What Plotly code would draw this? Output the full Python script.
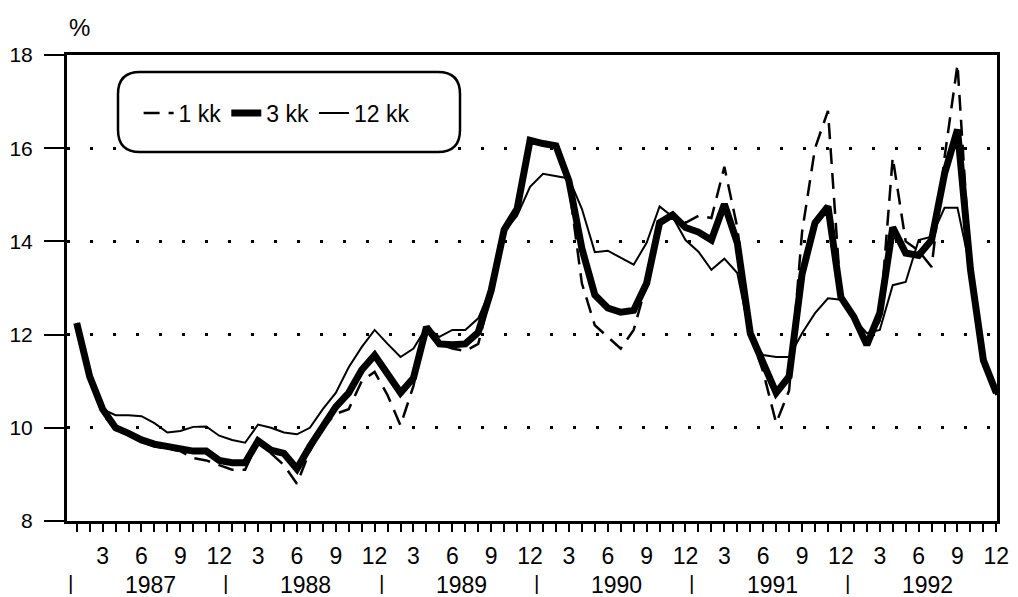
import plotly.graph_objects as go

# months 1..72 = Jan 1987 .. Dec 1992
months = list(range(1, 73))
years = [1987, 1988, 1989, 1990, 1991, 1992]

# 1 kk (dashed)
kk1 = [12.25, 11.0, 10.3, 9.95, 9.85, 9.7, 9.6, 9.55, 9.5, 9.35, 9.3, 9.2,
       9.1, 9.1, 9.7, 9.45, 9.2, 8.8, 9.5, 10.0, 10.3, 10.4, 11.0, 11.2,
       10.7, 10.05, 10.9, 12.2, 11.8, 11.7, 11.65, 11.8, 12.9, 14.2, 14.7, 16.15,
       16.1, 16.0, 15.2, 13.1, 12.2, 11.95, 11.7, 12.1, 13.1, 14.4, 14.55, 14.4,
       14.55, 14.5, 15.6, 14.3, 12.0, 11.2, 10.1, 10.8, 14.2, 16.0, 16.8, 12.8,
       12.4, 11.8, 12.3, 15.8, 14.0, 13.8, 13.45, 15.8, 17.8, 13.4, 11.5, 10.7]

# 3 kk (thick)
kk3 = [12.25, 11.1, 10.4, 10.0, 9.88, 9.74, 9.65, 9.6, 9.55, 9.5, 9.5, 9.3,
       9.25, 9.25, 9.72, 9.52, 9.45, 9.12, 9.6, 10.0, 10.45, 10.75, 11.24, 11.56,
       11.18, 10.75, 11.07, 12.16, 11.8, 11.78, 11.8, 12.05, 12.95, 14.25, 14.7, 16.17,
       16.1, 16.05, 15.3, 13.85, 12.85, 12.57, 12.48, 12.52, 13.1, 14.4, 14.57, 14.3,
       14.2, 14.03, 14.8, 13.97, 12.03, 11.4, 10.75, 11.1, 13.3, 14.4, 14.75, 12.8,
       12.38, 11.78, 12.46, 14.3, 13.75, 13.7, 14.03, 15.45, 16.4, 13.4, 11.45, 10.75]

# 12 kk (thin)
kk12 = [12.25, 11.1, 10.4, 10.27, 10.27, 10.25, 10.1, 9.9, 9.93, 10.02, 10.03, 9.83,
        9.74, 9.68, 10.07, 10.0, 9.9, 9.86, 10.0, 10.4, 10.75, 11.3, 11.73, 12.1,
        11.8, 11.52, 11.7, 12.16, 11.95, 12.1, 12.1, 12.35, 13.0, 14.2, 14.55, 15.17,
        15.45, 15.4, 15.35, 14.7, 13.77, 13.8, 13.65, 13.5, 13.97, 14.75, 14.53, 14.03,
        13.78, 13.39, 13.63, 13.32, 11.95, 11.56, 11.52, 11.52, 12.03, 12.46, 12.78, 12.75,
        12.35, 12.03, 12.1, 13.06, 13.13, 14.03, 14.1, 14.72, 14.72, 13.4, 11.45, 10.75]

FONT = 'Liberation Sans, Arial, Helvetica, sans-serif'

fig = go.Figure()

fig.add_trace(go.Scatter(x=months, y=kk1, name='1 kk', mode='lines', legendrank=1,
                         line=dict(color='black', width=2.5, dash='16px,9px')))
fig.add_trace(go.Scatter(x=months, y=kk12, name='12 kk', mode='lines', legendrank=3,
                         line=dict(color='black', width=2)))
fig.add_trace(go.Scatter(x=months, y=kk3, name='3 kk', mode='lines', legendrank=2,
                         line=dict(color='black', width=7)))

# month tick labels 3 6 9 12
ticktext = [str((m - 1) % 12 + 1) if m % 3 == 0 else '' for m in months]

fig.update_xaxes(
    range=[0.25, 72.05], tickvals=months, ticktext=ticktext,
    ticks='outside', ticklen=8, tickwidth=2, tickcolor='black',
    showline=True, linewidth=3, linecolor='black', mirror=True,
    showgrid=False, zeroline=False, automargin=False, ticklabelstandoff=4,
    tickfont=dict(size=23, color='black', family=FONT),
)
fig.update_yaxes(
    range=[8, 18], tickvals=[8, 10, 12, 14, 16, 18],
    ticks='outside', ticklen=20, tickwidth=2, tickcolor='black',
    showline=True, linewidth=3, linecolor='black', mirror=True,
    showgrid=True, gridcolor='black', gridwidth=2.5, griddash='3px,20px',
    zeroline=False, automargin=False, ticklabelstandoff=7,
    tickfont=dict(size=21, color='black', family=FONT),
)

# year labels and separators under the month ticks
annotations = []
for k, yr in enumerate(years):
    annotations.append(dict(x=12 * k + 6.7, y=-0.137, xref='x', yref='paper', text=str(yr),
                            xanchor='center', yanchor='middle', showarrow=False,
                            font=dict(size=23, color='black', family=FONT)))
    annotations.append(dict(x=12 * k + 0.5, y=-0.133, xref='x', yref='paper', text='|',
                            xanchor='center', yanchor='middle', showarrow=False,
                            font=dict(size=21, color='black', family=FONT)))
annotations.append(dict(x=0.013, y=1.06, xref='paper', yref='paper', text='%', showarrow=False,
                        xanchor='center', yanchor='middle',
                        font=dict(size=24, color='black', family=FONT)))

# rounded legend box
pw, ph = 930, 466
x0, x1 = (118 - 67) / pw, (460 - 67) / pw
y1, y0 = (521 - 72) / ph, (521 - 152) / ph
rx, ry = 22 / pw, 22 / ph
box = (f'M {x0 + rx},{y1} L {x1 - rx},{y1} Q {x1},{y1} {x1},{y1 - ry} '
       f'L {x1},{y0 + ry} Q {x1},{y0} {x1 - rx},{y0} L {x0 + rx},{y0} '
       f'Q {x0},{y0} {x0},{y0 + ry} L {x0},{y1 - ry} Q {x0},{y1} {x0 + rx},{y1} Z')

# the page body adds an 8px margin, so the figure is 8px smaller and shifted
fig.update_layout(
    width=1010, height=589,
    margin=dict(l=59, r=21, t=47, b=76),
    plot_bgcolor='white', paper_bgcolor='white',
    font=dict(family=FONT, color='black', size=23),
    annotations=annotations,
    shapes=[dict(type='path', path=box, xref='paper', yref='paper',
                 line=dict(color='black', width=2.5), fillcolor='white', layer='above')],
    showlegend=True,
    legend=dict(orientation='h', x=0.077, y=(521 - 113) / ph, xanchor='left', yanchor='middle',
                bgcolor='rgba(0,0,0,0)', font=dict(size=23, color='black', family=FONT),
                itemwidth=30, tracegroupgap=0),
)

fig.write_html('out.html')
